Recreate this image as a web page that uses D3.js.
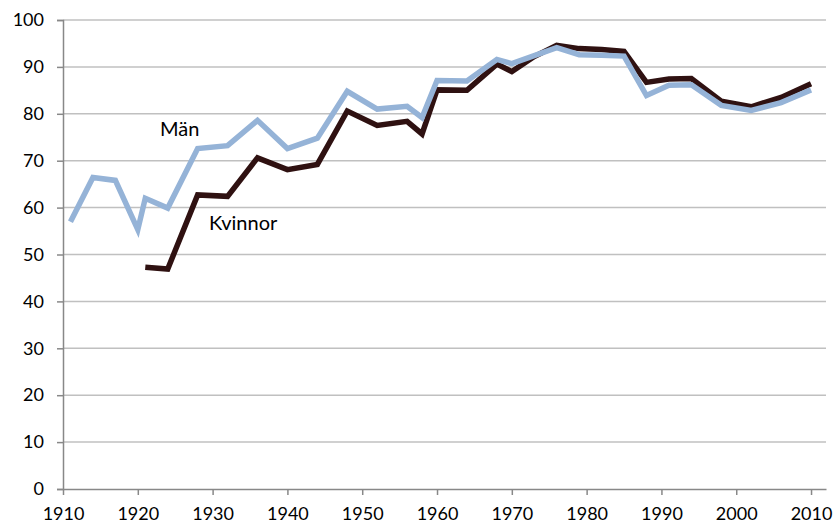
<!DOCTYPE html>
<html>
<head>
<meta charset="utf-8">
<script src="https://cdn.jsdelivr.net/npm/d3@7"></script>
<style>
  body { margin: 0; background: #fff; }
  text { font-family: Lato, "Open Sans", sans-serif; fill: #000; }
</style>
</head>
<body>
<div id="chart"></div>
<script>
// election years (two elections in 1914 -> drawn as one point)
const years = [1911, 1914, 1917, 1920, 1921, 1924, 1928, 1932, 1936, 1940, 1944, 1948, 1952, 1956, 1958,
  1960, 1964, 1968, 1970, 1973, 1976, 1979, 1982, 1985, 1988, 1991, 1994, 1998, 2002, 2006, 2010];

const manValues = [57.0, 66.4, 65.8, 55.3, 62.0, 59.9, 72.6, 73.2, 78.6, 72.6, 74.8, 84.8, 81.0, 81.6, 79.2,
  87.1, 87.0, 91.6, 90.7, 92.4, 94.1, 92.6, 92.5, 92.3, 83.9, 86.1, 86.2, 81.8, 80.7, 82.4, 85.1];

const kvinnorYears = [1921, 1924, 1928, 1932, 1936, 1940, 1944, 1948, 1952, 1956, 1958,
  1960, 1964, 1968, 1970, 1973, 1976, 1979, 1982, 1985, 1988, 1991, 1994, 1998, 2002, 2006, 2010];
const kvinnorValues = [47.3, 46.9, 62.7, 62.4, 70.6, 68.1, 69.2, 80.6, 77.5, 78.4, 75.7,
  85.1, 85.0, 90.6, 89.0, 92.2, 94.6, 93.9, 93.7, 93.3, 86.7, 87.4, 87.5, 82.7, 81.5, 83.5, 86.4];

const xTicks = [1910, 1920, 1930, 1940, 1950, 1960, 1970, 1980, 1990, 2000, 2010];
const yTicks = [0, 10, 20, 30, 40, 50, 60, 70, 80, 90, 100];

const width = 834, height = 525;
const margin = {top: 20, right: 8, bottom: 36, left: 63};

const svg = d3.select("#chart").append("svg")
  .attr("width", width)
  .attr("height", height);

const x = d3.scaleLinear().domain([1910, 2012]).range([margin.left, width - margin.right]);
const y = d3.scaleLinear().domain([0, 100]).range([height - margin.bottom, margin.top]);

// gridlines
svg.append("g").selectAll("line")
  .data(yTicks.filter(d => d > 0))
  .join("line")
  .attr("x1", margin.left).attr("x2", width - margin.right)
  .attr("y1", d => y(d)).attr("y2", d => y(d))
  .attr("stroke", "#c0c0c0").attr("stroke-width", 1.5);

// y axis
const yAxis = svg.append("g")
  .attr("transform", `translate(${margin.left},0)`)
  .call(d3.axisLeft(y).tickValues(yTicks).tickSize(6).tickPadding(13));
yAxis.select(".domain").attr("stroke", "#888").attr("stroke-width", 1.5);
yAxis.selectAll(".tick line").attr("stroke", "#888").attr("stroke-width", 1.5);
yAxis.selectAll("text").attr("font-size", 18).attr("fill", "#000");

// x axis
const xAxis = svg.append("g")
  .attr("transform", `translate(0,${y(0)})`)
  .call(d3.axisBottom(x).tickValues(xTicks).tickFormat(d3.format("d")).tickSize(6).tickSizeOuter(0).tickPadding(12));
xAxis.select(".domain").attr("stroke", "#888").attr("stroke-width", 1.5);
xAxis.selectAll(".tick line").attr("stroke", "#888").attr("stroke-width", 1.5);
xAxis.selectAll("text").attr("font-size", 18).attr("fill", "#000");

const line = d3.line()
  .x(d => x(d[0]))
  .y(d => y(d[1]));

// women first, men on top
svg.append("path")
  .datum(kvinnorYears.map((yr, i) => [yr, kvinnorValues[i]]))
  .attr("d", line)
  .attr("fill", "none")
  .attr("stroke", "#2f1111")
  .attr("stroke-width", 5.5)
  .attr("stroke-linejoin", "miter");

svg.append("path")
  .datum(years.map((yr, i) => [yr, manValues[i]]))
  .attr("d", line)
  .attr("fill", "none")
  .attr("stroke", "#95b3d7")
  .attr("stroke-width", 5.5)
  .attr("stroke-linejoin", "miter");

// series labels
svg.append("text").attr("x", 160).attr("y", 136).attr("font-size", 20).text("Män");
svg.append("text").attr("x", 209).attr("y", 230).attr("font-size", 20).text("Kvinnor");
</script>
</body>
</html>
